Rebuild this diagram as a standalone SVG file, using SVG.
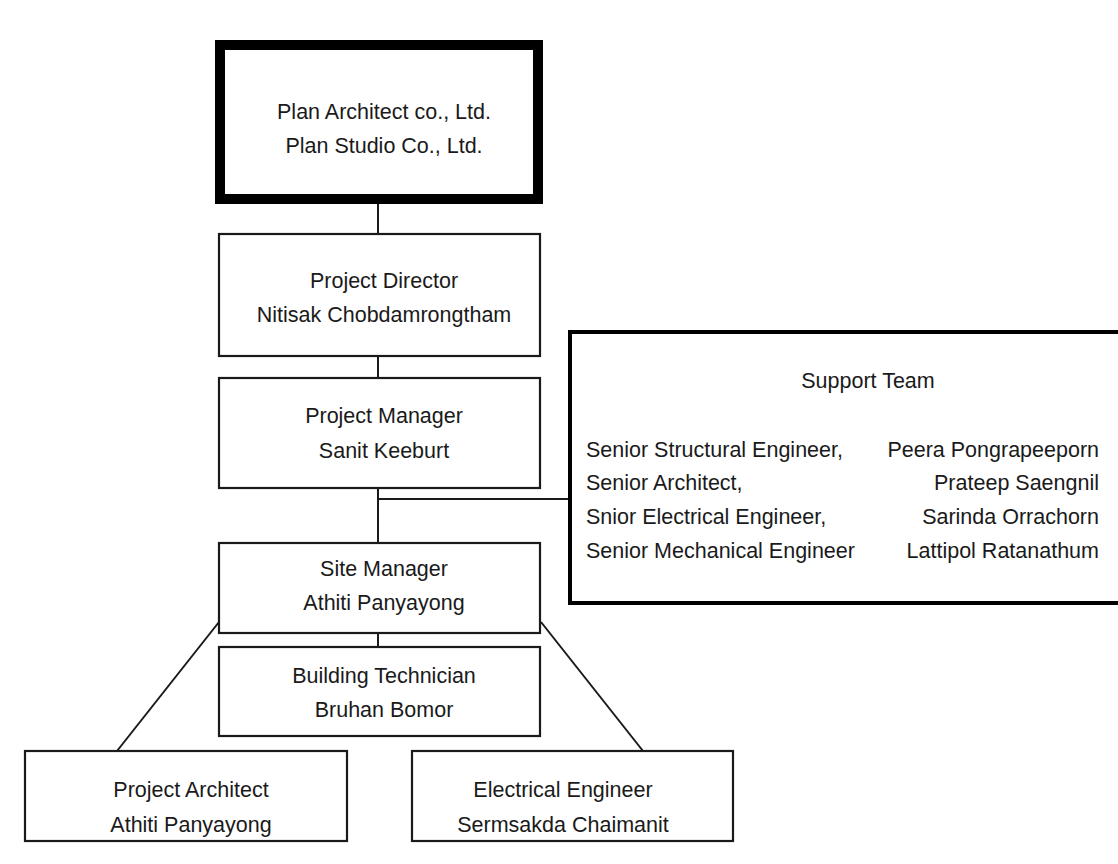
<svg xmlns="http://www.w3.org/2000/svg" width="1118" height="864" viewBox="0 0 1118 864">
<style>
.box{fill:#ffffff;stroke:#1a1a1a;stroke-width:2.2}
.thick{fill:#ffffff;stroke:#000000;stroke-width:10}
.support{fill:#ffffff;stroke:#000000;stroke-width:4}
.conn{fill:none;stroke:#1a1a1a;stroke-width:2}
text{font-family:"Liberation Sans",Arial,sans-serif;font-size:21.5px;fill:#1a1a1a}
.c{text-anchor:middle}
.r{text-anchor:end}
</style>
<rect x="0" y="0" width="1118" height="864" fill="#ffffff"/>
<g id="connectors">
<line class="conn" x1="378" y1="204" x2="378" y2="234"/>
<line class="conn" x1="378" y1="356" x2="378" y2="378"/>
<line class="conn" x1="378" y1="488" x2="378" y2="543"/>
<line class="conn" x1="378" y1="499" x2="570" y2="499"/>
<line class="conn" x1="378" y1="633" x2="378" y2="647"/>
<line class="conn" x1="219" y1="622" x2="117" y2="751"/>
<line class="conn" x1="541" y1="622" x2="643" y2="751"/>
</g>
<g id="company">
<rect class="thick" x="220" y="45" width="318" height="154"/>
<text class="c" x="384" y="119">Plan Architect co., Ltd.</text>
<text class="c" x="384" y="153">Plan Studio Co., Ltd.</text>
</g>
<g id="project-director">
<rect class="box" x="219" y="234" width="321" height="122"/>
<text class="c" x="384" y="288">Project Director</text>
<text class="c" x="384" y="322">Nitisak Chobdamrongtham</text>
</g>
<g id="project-manager">
<rect class="box" x="219" y="378" width="321" height="110"/>
<text class="c" x="384" y="423">Project Manager</text>
<text class="c" x="384" y="458">Sanit Keeburt</text>
</g>
<g id="support-team">
<rect class="support" x="570" y="332" width="560" height="271"/>
<text class="c" x="868" y="388">Support Team</text>
<text x="586" y="457">Senior Structural Engineer,</text>
<text x="586" y="490">Senior Architect,</text>
<text x="586" y="524">Snior Electrical Engineer,</text>
<text x="586" y="558">Senior Mechanical Engineer</text>
<text class="r" x="1099" y="457">Peera Pongrapeeporn</text>
<text class="r" x="1099" y="490">Prateep Saengnil</text>
<text class="r" x="1099" y="524">Sarinda Orrachorn</text>
<text class="r" x="1099" y="558">Lattipol Ratanathum</text>
</g>
<g id="site-manager">
<rect class="box" x="219" y="543" width="321" height="90"/>
<text class="c" x="384" y="576">Site Manager</text>
<text class="c" x="384" y="610">Athiti Panyayong</text>
</g>
<g id="building-technician">
<rect class="box" x="219" y="647" width="321" height="89"/>
<text class="c" x="384" y="683">Building Technician</text>
<text class="c" x="384" y="717">Bruhan Bomor</text>
</g>
<g id="project-architect">
<rect class="box" x="25" y="751" width="322" height="90"/>
<text class="c" x="191" y="797">Project Architect</text>
<text class="c" x="191" y="832">Athiti Panyayong</text>
</g>
<g id="electrical-engineer">
<rect class="box" x="412" y="751" width="321" height="90"/>
<text class="c" x="563" y="797">Electrical Engineer</text>
<text class="c" x="563" y="832">Sermsakda Chaimanit</text>
</g>
</svg>
